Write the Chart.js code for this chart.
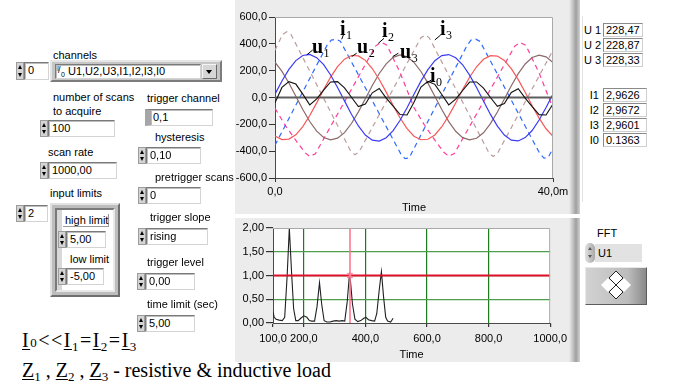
<!DOCTYPE html>
<html>
<head>
<meta charset="utf-8">
<script src="https://cdn.jsdelivr.net/npm/chart.js@4.4.1/dist/chart.umd.min.js"></script>
<style>
  body { margin: 0; width: 673px; height: 385px; background: #fff; position: relative; overflow: hidden;
         font-family: "Liberation Sans", Arial, sans-serif; font-size: 11px; color: #000; }
  .lbl { position: absolute; font-size: 11px; line-height: 12px; white-space: nowrap; z-index: 3; }
  .fld { position: absolute; background: #fff; box-sizing: border-box; border: 1px solid #7a7a7a;
         border-right-color: #d4d4d4; border-bottom-color: #d4d4d4; box-shadow: inset 1px 1px 0 #bdbdbd;
         padding: 1px 0 0 3px; font-size: 11px; line-height: 13px; white-space: nowrap; z-index: 3; }
  .spin { position: absolute; width: 8px; background: #d4d4d4; box-sizing: border-box;
          border: 1px solid #9c9c9c; z-index: 3; }
  .spin:before, .spin:after { content: ""; position: absolute; left: 0.5px;
          border-left: 2.5px solid transparent; border-right: 2.5px solid transparent; }
  .spin:before { top: 2px; border-bottom: 4px solid #000; }
  .spin:after { bottom: 2px; border-top: 4px solid #000; }
  .panel { position: absolute; left: 235px; width: 345px;
           background: linear-gradient(to right, #ececec 0, #ececec 334px, #cdcdcd 337px, #9f9f9f 341px, #d2d2d2 345px); }
  canvas { position: absolute; z-index: 2; }
  .ind { position: absolute; background: #fff; box-sizing: border-box; border: 1px solid #8a8a8a;
         border-right-color: #cfcfcf; border-bottom-color: #cfcfcf; padding: 0 0 0 2px;
         font-size: 11px; line-height: 12px; height: 14px; }
  .eq { position: absolute; font-family: "Liberation Serif", "Times New Roman", serif; font-size: 20px;
        line-height: 20px; white-space: nowrap; }
  .eq .u { text-decoration: underline; text-decoration-thickness: 1px; text-underline-offset: 2px; }
  .eq sub { font-size: 13px; line-height: 0; vertical-align: -4px; }
  .eq .sm { font-size: 13px; }
</style>
</head>
<body>

<!-- chart panels -->
<div class="panel" style="top:0;height:214px"></div>
<div class="panel" style="top:218px;height:144px"></div>
<canvas id="waveChart" width="340" height="217" style="left:232px;top:0"></canvas>
<canvas id="fftChart" width="340" height="147" style="left:232px;top:218px"></canvas>

<!-- left controls -->
<div class="lbl" style="left:53px;top:49px">channels</div>
<div class="spin" style="left:16px;top:62px;height:18px"></div>
<div class="fld" style="left:24px;top:62px;width:25px;height:18px">0</div>
<div style="position:absolute;left:50px;top:60px;width:172px;height:22px;box-sizing:border-box;background:#c6c6c6;border:2px solid;border-color:#e6e6e6 #7c7c7c #7c7c7c #e6e6e6"></div>
<div class="fld" style="left:55px;top:64px;width:146px;height:15px;padding-left:12px;padding-top:0">U1,U2,U3,I1,I2,I3,I0</div>
<div style="position:absolute;z-index:4;left:57px;top:65px;width:9px;height:12px;font-size:7px;line-height:7px;">
  <span style="position:absolute;left:0;top:0">I</span><span style="position:absolute;left:1px;top:2px;font-size:9px">/</span><span style="position:absolute;left:4px;top:6px">0</span>
</div>
<div style="position:absolute;left:202px;top:64px;width:15px;height:15px;box-sizing:border-box;background:#d6d6d6;border:1px solid;border-color:#f4f4f4 #6a6a6a #6a6a6a #f4f4f4"></div>
<div style="position:absolute;left:206px;top:70px;border-left:3.5px solid transparent;border-right:3.5px solid transparent;border-top:4px solid #000"></div>

<div class="lbl" style="left:53px;top:91px">number of scans</div>
<div class="lbl" style="left:53px;top:105px">to acquire</div>
<div class="spin" style="left:40px;top:120px;height:17px"></div>
<div class="fld" style="left:48px;top:120px;width:67px;height:17px">100</div>
<div class="lbl" style="left:48px;top:146px">scan rate</div>
<div class="spin" style="left:40px;top:162px;height:17px"></div>
<div class="fld" style="left:48px;top:162px;width:69px;height:17px">1000,00</div>
<div class="lbl" style="left:50px;top:187px">input limits</div>
<div class="spin" style="left:16px;top:205px;height:17px"></div>
<div class="fld" style="left:24px;top:205px;width:24px;height:17px">2</div>

<div style="position:absolute;left:50px;top:203px;width:70px;height:94px;box-sizing:border-box;background:#bdbdbd;border:2px solid;border-color:#e2e2e2 #6f6f6f #6f6f6f #e2e2e2"></div>
<div style="position:absolute;left:55px;top:208px;width:60px;height:84px;box-sizing:border-box;background:#fff;border:2px solid;border-color:#7a7a7a #e8e8e8 #e8e8e8 #7a7a7a;box-shadow:inset 5px 0 0 #d8d8d8"></div>
<div class="lbl" style="left:63px;top:214px;width:46px;height:13px;border-right:1px solid #9a9a9a;border-bottom:1px solid #9a9a9a;padding-left:2px;box-sizing:border-box">high limit</div>
<div class="spin" style="left:58px;top:231px;height:17px"></div>
<div class="fld" style="left:66px;top:231px;width:40px;height:17px">5,00</div>
<div class="lbl" style="left:70px;top:253px">low limit</div>
<div class="spin" style="left:58px;top:268px;height:17px"></div>
<div class="fld" style="left:66px;top:268px;width:38px;height:17px">-5,00</div>

<div class="lbl" style="left:147px;top:92px">trigger channel</div>
<div class="fld" style="left:145px;top:109px;width:68px;height:17px;border-left:6px solid #a6a6a6;padding-left:2px">0,1</div>
<div class="lbl" style="left:155px;top:131px">hysteresis</div>
<div class="spin" style="left:138px;top:147px;height:17px"></div>
<div class="fld" style="left:146px;top:147px;width:55px;height:17px">0,10</div>
<div class="lbl" style="left:155px;top:171px">pretrigger scans</div>
<div class="spin" style="left:138px;top:187px;height:17px"></div>
<div class="fld" style="left:146px;top:187px;width:55px;height:17px">0</div>
<div class="lbl" style="left:150px;top:211px">trigger slope</div>
<div class="spin" style="left:138px;top:228px;height:17px"></div>
<div class="fld" style="left:146px;top:228px;width:62px;height:17px">rising</div>
<div class="lbl" style="left:147px;top:256px">trigger level</div>
<div class="spin" style="left:137px;top:273px;height:17px"></div>
<div class="fld" style="left:145px;top:273px;width:50px;height:17px">0,00</div>
<div class="lbl" style="left:147px;top:298px">time limit (sec)</div>
<div class="spin" style="left:137px;top:315px;height:17px"></div>
<div class="fld" style="left:145px;top:315px;width:50px;height:17px">5,00</div>

<!-- equations -->
<div class="eq" style="left:22px;top:330px;letter-spacing:1.5px"><span class="u">I</span><span class="sm">0</span>&lt;&lt;<span class="u">I</span><sub>1</sub>=<span class="u">I</span><sub>2</sub>=<span class="u">I</span><sub>3</sub></div>
<div class="eq" style="left:22px;top:360px"><span class="u">Z</span><sub>1</sub> , <span class="u">Z</span><sub>2</sub> , <span class="u">Z</span><sub>3</sub> - resistive &amp; inductive load</div>

<!-- right indicators -->
<div style="position:absolute;left:582px;top:16px;width:1px;height:186px;background:#e2e2e2"></div>
<div class="lbl" style="left:584px;top:24px;width:16px;text-align:right">U 1</div>
<div class="ind" style="left:603px;top:23px;width:40px">228,47</div>
<div class="lbl" style="left:584px;top:39px;width:16px;text-align:right">U 2</div>
<div class="ind" style="left:603px;top:38px;width:40px">228,87</div>
<div class="lbl" style="left:584px;top:54px;width:16px;text-align:right">U 3</div>
<div class="ind" style="left:603px;top:53px;width:40px">228,33</div>
<div class="lbl" style="left:584px;top:89px;width:15px;text-align:right">I1</div>
<div class="ind" style="left:603px;top:88px;width:44px">2,9626</div>
<div class="lbl" style="left:584px;top:104px;width:15px;text-align:right">I2</div>
<div class="ind" style="left:603px;top:103px;width:44px">2,9672</div>
<div class="lbl" style="left:584px;top:119px;width:15px;text-align:right">I3</div>
<div class="ind" style="left:603px;top:118px;width:44px">2,9601</div>
<div class="lbl" style="left:584px;top:134px;width:15px;text-align:right">I0</div>
<div class="ind" style="left:603px;top:133px;width:44px">0.1363</div>

<div class="lbl" style="left:597px;top:227px">FFT</div>
<div style="position:absolute;left:585px;top:243px;width:10px;height:20px;border-radius:5px;background:linear-gradient(to right,#e2e2e2,#a8a8a8);"></div>
<div style="position:absolute;left:588px;top:247px;border-left:2px solid transparent;border-right:2px solid transparent;border-bottom:3px solid #555"></div>
<div style="position:absolute;left:588px;top:255px;border-left:2px solid transparent;border-right:2px solid transparent;border-top:3px solid #555"></div>
<div style="position:absolute;left:595px;top:244px;width:47px;height:18px;background:#e2e2e2;padding-left:3px;box-sizing:border-box;font-size:11px;line-height:18px">U1</div>

<div style="position:absolute;left:585px;top:267px;width:62px;height:38px;box-sizing:border-box;background:linear-gradient(to right,#d2d2d2,#bcbcbc 70%,#8a8a8a);border:1px solid;border-color:#e8e8e8 #5c5c5c #5c5c5c #e8e8e8"></div>
<svg style="position:absolute;left:585px;top:267px" width="62" height="38">
  <polygon points="23,18 31,10 39,18 31,26" fill="#fff"/>
  <polygon points="31,4 38,11 31,18 24,11" fill="#fff" stroke="#222" stroke-width="1"/>
  <polygon points="31,18 38,25 31,32 24,25" fill="#fff" stroke="#222" stroke-width="1"/>
  <polygon points="16,18 23,11 30,18 23,25" fill="#fff"/>
  <polygon points="32,18 39,11 46,18 39,25" fill="#fff"/>
</svg>

<script>
const timeMs = [0, 1, 2, 3, 4, 5, 6, 7, 8, 9, 10, 11, 12, 13, 14, 15, 16, 17, 18, 19, 20,
  21, 22, 23, 24, 25, 26, 27, 28, 29, 30, 31, 32, 33, 34, 35, 36, 37, 38, 39, 40];
const u1 = [25, 123, 209, 275, 313, 321, 297, 245, 168, 75, -25, -125, -212, -280, -318, -325, -300, -247, -170, -76, 24,
  122, 208, 274, 312, 320, 296, 244, 167, 74, -26, -126, -213, -280, -318, -324, -299, -246, -168, -75, 26];
const u2 = [-288, -314, -310, -278, -217, -134, -40, 60, 152, 230, 286, 313, 310, 277, 216, 134, 40, -60, -153, -232, -289,
  -315, -311, -279, -218, -135, -41, 59, 151, 229, 285, 312, 309, 276, 215, 133, 39, -61, -154, -233, -290];
const u3 = [263, 195, 108, 10, -89, -179, -251, -298, -315, -303, -262, -194, -107, -10, 89, 179, 251, 299, 317, 304, 262,
  194, 107, 9, -90, -180, -252, -299, -316, -304, -263, -195, -108, -11, 88, 178, 250, 298, 316, 303, 261];
const i0 = [-40, 75, 118, 100, 25, -55, -10, 55, 116, 118, 72, 2, -68, -48, 35, 67, -5, -65, -127, -130, -35,
  78, 120, 98, 22, -55, -12, 52, 115, 116, 70, 0, -66, -45, 38, 66, -5, -68, -128, -130, -48];

// current traces: corner points of the dashed curves
const i1Time = [0, 7.5, 8.1, 8.8, 9.4, 18.1, 18.7, 19.3, 27.6, 28.2, 28.9, 29.5, 38.1, 38.7, 39.3, 40];
const i1Vals = [-355, 390, 428, 434, 420, -420, -455, -450, 385, 428, 435, 418, -418, -452, -447, -380];
const i2Time = [0, 1.5, 3, 4.3, 5.0, 5.8, 14.5, 15.3, 16.1, 18, 20, 21.5, 23, 24.3, 25.0, 25.8, 34.5, 35.3, 36.1, 38, 40];
const i2Vals = [-80, -210, -320, -410, -440, -420, 385, 412, 390, 185, -75, -205, -318, -408, -438, -418, 383, 410, 388, 183, -80];
const i3Time = [0, 1.1, 1.7, 2.3, 10.9, 11.5, 12.1, 21.0, 21.6, 22.2, 30.8, 31.4, 32.0, 40];
const i3Vals = [353, 470, 490, 470, -400, -426, -405, 445, 465, 445, -415, -440, -418, 353];
const zeroLine = [0, 0];
const zeroTime = [0, 40];

const timeTicks = [0, 40];
const timeTickLabels = ["0,0", "40,0m"];

// spectrum
const fftFreq = [100, 104, 110, 120, 130, 138, 146, 153, 160, 167, 174, 182, 190, 200, 210, 218, 226, 235, 243, 251,
  258, 266, 275, 285, 295, 305, 315, 325, 333, 341, 348, 352, 358, 366, 375, 385, 395, 402, 410, 420,
  430, 437, 445, 452, 459, 466, 472, 482, 490];
const fftMag = [0.24, 0.12, 0.08, 0.06, 0.05, 0.12, 1.0, 2.0, 1.1, 0.3, 0.05, 0.05, 0.1, 0.15, 0.12, 0.05, 0.04, 0.04, 0.35, 0.85,
  0.4, 0.05, 0.02, 0.02, 0.04, 0.05, 0.04, 0.05, 0.04, 0.45, 1.0, 0.85, 0.4, 0.08, 0.03, 0.05, 0.1, 0.12, 0.07, 0.05,
  0.04, 0.2, 0.7, 1.08, 0.55, 0.12, 0.04, 0.02, 0.1];
const freqTicks = [100, 200, 400, 600, 800, 1000];
const freqTickLabels = ["100,0", "200,0", "400,0", "600,0", "800,0", "1000,0"];
const cursorFreq = 350;
const cursorLevel = 1.0;

// curve name labels: point on curve, leader end, text position
const waveLabels = [
  { main: "u", sub: "1", tip: [4.56, 317], end: [5.42, 354], at: [5.32, 332] },
  { main: "i", sub: "1", tip: [9.6, 434], end: [9.83, 466], at: [9.35, 466] },
  { main: "u", sub: "2", tip: [11.03, 305], end: [11.75, 330], at: [11.8, 332] },
  { main: "i", sub: "2", tip: [14.87, 404], end: [15.68, 441], at: [15.4, 451] },
  { main: "u", sub: "3", tip: [16.93, 305], end: [17.75, 330], at: [18.0, 295] },
  { main: "i", sub: "3", tip: [23.0, 429], end: [23.84, 466], at: [23.74, 466] },
  { main: "i", sub: "0", tip: [21.8, 107], end: [22.5, 131], at: [22.3, 117] },
];

Chart.defaults.font.family = '"Liberation Sans", Arial, sans-serif';
Chart.defaults.font.size = 11;
Chart.defaults.color = "#000";

const pts = (xs, ys) => xs.map((x, k) => ({ x, y: ys[k] }));
const line = (data, color, order, width, dash) => ({
  data, borderColor: color, borderWidth: width || 1.2, borderDash: dash || [],
  pointRadius: 0, showLine: true, fill: false, tension: 0, order,
});

const plotFrame = {
  id: "plotFrame",
  beforeDraw(chart) {
    const { ctx, chartArea: a } = chart;
    ctx.save();
    ctx.fillStyle = "#fff";
    ctx.fillRect(a.left, a.top, a.right - a.left, a.bottom - a.top);
    ctx.restore();
  },
  afterDraw(chart) {
    const { ctx, chartArea: a } = chart;
    ctx.save();
    ctx.strokeStyle = "#a9a9a9";
    ctx.lineWidth = 1;
    ctx.beginPath();
    ctx.moveTo(a.left, a.top + 0.5);
    ctx.lineTo(a.right - 0.5, a.top + 0.5);
    ctx.lineTo(a.right - 0.5, a.bottom);
    ctx.stroke();
    ctx.restore();
  },
};

const curveNames = {
  id: "curveNames",
  afterDatasetsDraw(chart) {
    const { ctx, scales: { x, y } } = chart;
    ctx.save();
    waveLabels.forEach((l) => {
      ctx.strokeStyle = "#000";
      ctx.lineWidth = 1;
      ctx.beginPath();
      ctx.moveTo(x.getPixelForValue(l.tip[0]), y.getPixelForValue(l.tip[1]));
      ctx.lineTo(x.getPixelForValue(l.end[0]), y.getPixelForValue(l.end[1]));
      ctx.stroke();
      const tx = x.getPixelForValue(l.at[0]);
      const ty = y.getPixelForValue(l.at[1]);
      ctx.fillStyle = "#000";
      ctx.textBaseline = "alphabetic";
      ctx.font = 'bold 20px "Liberation Serif", serif';
      ctx.fillText(l.main, tx, ty);
      const w = ctx.measureText(l.main).width;
      ctx.font = '12px "Liberation Serif", serif';
      ctx.fillText(l.sub, tx + w + 0.5, ty + 4);
    });
    ctx.restore();
  },
};

new Chart(document.getElementById("waveChart"), {
  type: "scatter",
  data: {
    datasets: [
      line(pts(timeMs, i0), "#111111", 0, 1.1),
      line(pts(zeroTime, zeroLine), "#5e5e5e", 1, 2.2),
      line(pts(timeMs, u1), "#3b3bf5", 2),
      line(pts(timeMs, u2), "#f65858", 3),
      line(pts(timeMs, u3), "#8c6a6a", 4),
      line(pts(i1Time, i1Vals), "#2f6bff", 5, 1.2, [5, 4]),
      line(pts(i2Time, i2Vals), "#ff3c96", 6, 1.2, [5, 4]),
      line(pts(i3Time, i3Vals), "#bb9d9d", 7, 1.2, [5, 4]),
    ],
  },
  options: {
    responsive: false,
    animation: false,
    layout: { padding: { top: 17, right: 19, left: 0, bottom: 0 } },
    plugins: { legend: { display: false }, tooltip: { enabled: false } },
    scales: {
      x: {
        type: "linear", min: 0, max: 40,
        afterBuildTicks: (ax) => { ax.ticks = timeTicks.map((v) => ({ value: v })); },
        ticks: { callback: (v) => timeTickLabels[timeTicks.indexOf(v)], padding: 3, maxRotation: 0, autoSkip: false },
        grid: { drawOnChartArea: false, tickLength: 4, tickColor: "#333" },
        border: { color: "#4a4a4a" },
        title: { display: true, text: "Time", padding: { top: 0, bottom: 2 } },
        afterFit: (s) => { s.height = 39; },
      },
      y: {
        type: "linear", min: -600, max: 600,
        ticks: { stepSize: 200, padding: 2, callback: (v) => v.toFixed(1).replace(".", ",") },
        grid: { drawOnChartArea: false, tickLength: 6, tickColor: "#333" },
        border: { color: "#4a4a4a" },
        afterFit: (s) => { s.width = 43; },
      },
    },
  },
  plugins: [plotFrame, curveNames],
});

new Chart(document.getElementById("fftChart"), {
  type: "scatter",
  data: {
    datasets: [
      { data: [{ x: cursorFreq, y: cursorLevel }], pointStyle: "crossRot", pointRadius: 3.5,
        borderColor: "#ff7a94", borderWidth: 1.5, showLine: false, order: 0 },
      line(pts([cursorFreq, cursorFreq], [0, 2]), "#ff6f8c", 1, 1.5),
      line(pts([100, 1000], [cursorLevel, cursorLevel]), "#e0102a", 2, 2.2),
      line(pts(fftFreq, fftMag), "#202020", 3, 1.1),
    ],
  },
  options: {
    responsive: false,
    animation: false,
    layout: { padding: { top: 10, right: 18, left: 0, bottom: 0 } },
    plugins: { legend: { display: false }, tooltip: { enabled: false } },
    scales: {
      x: {
        type: "linear", min: 100, max: 1000,
        afterBuildTicks: (ax) => { ax.ticks = freqTicks.map((v) => ({ value: v })); },
        ticks: { callback: (v) => freqTickLabels[freqTicks.indexOf(v)], padding: 5, maxRotation: 0, autoSkip: false },
        grid: {
          color: (c) => (c.tick && (c.tick.value === 100 || c.tick.value === 1000)) ? "rgba(0,0,0,0)" : "#1d7a1d",
          lineWidth: 1.2, tickLength: 4, tickColor: "#333",
        },
        border: { color: "#4a4a4a" },
        title: { display: true, text: "Time", padding: { top: 0, bottom: 3 } },
        afterFit: (s) => { s.height = 42; },
      },
      y: {
        type: "linear", min: 0, max: 2,
        ticks: { stepSize: 0.5, padding: 2, callback: (v) => v.toFixed(2).replace(".", ",") },
        grid: {
          color: (c) => (c.tick && (c.tick.value === 0 || c.tick.value === 2)) ? "rgba(0,0,0,0)" : "#4e9e4e",
          lineWidth: 1.2, tickLength: 7, tickColor: "#333",
        },
        border: { color: "#4a4a4a" },
        afterFit: (s) => { s.width = 41; },
      },
    },
  },
  plugins: [plotFrame],
});
</script>
</body>
</html>
